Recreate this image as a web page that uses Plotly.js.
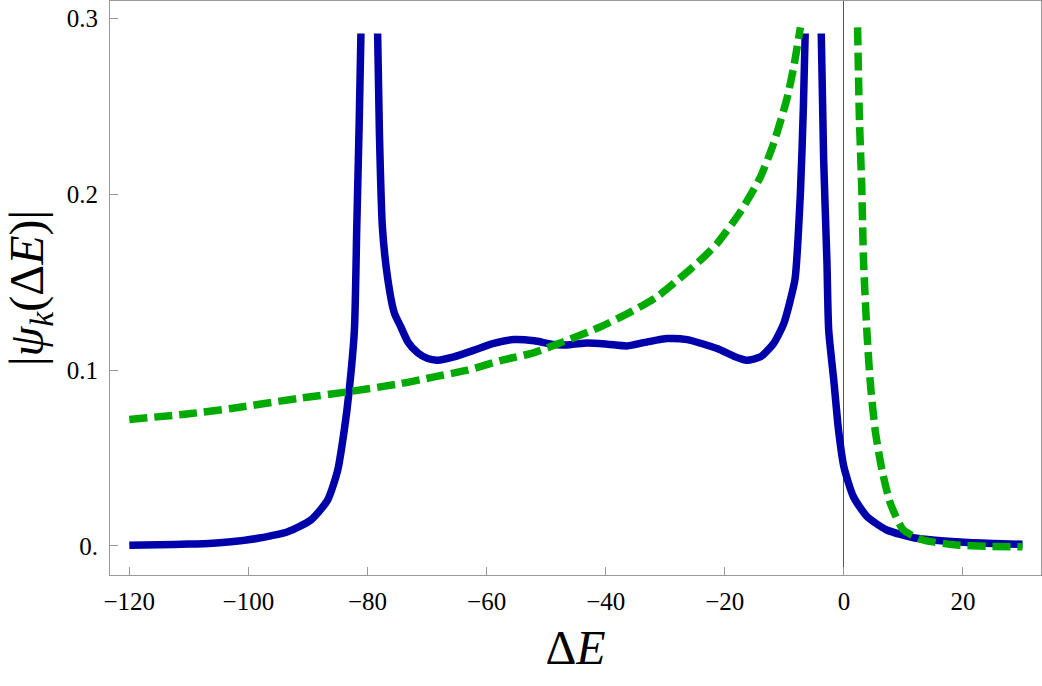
<!DOCTYPE html>
<html>
<head>
<meta charset="utf-8">
<script src="https://cdn.plot.ly/plotly-3.0.1.min.js"></script>
<style>html,body{margin:0;padding:0;background:#fff;}#chart{width:1042px;height:686px;}</style>
</head>
<body>
<div id="chart"></div>
<script>
// Solid blue curve |psi_k(ΔE)| (null = gap where the curve leaves the plotted range)
const blueX = [-120, -115, -110, -106, -102.9, -98.4, -93.4, -89.5, -86.7, -85.0, -83.9, -83.1, -82.2, -81.8, -81.4, -81.1,
  -79.7,
  -78.3, -78.0, -77.5, -76.6, -75.5, -74.4, -73.2, -71.6, -69.9, -68.2, -65.5, -62.1, -58.8, -55.4, -52.0,
  -48.7, -46.0, -43.1, -39.7, -36.4, -33.0, -29.7, -26.3, -21.3, -18.5, -16.3, -14.0, -11.8, -10.1, -9.0,
  -8.2, -7.3, -6.8, -6.5,
  -5.1,
  -3.8, -3.4, -2.85, -2.55, -1.7, -0.9, 0, 1.6, 3.9, 7.2, 12.2, 18.9, 25, 30];
const blueY = [0.0004, 0.0007, 0.0011, 0.0016, 0.0024, 0.0044, 0.0081, 0.0148, 0.0261, 0.0432, 0.0659, 0.0877, 0.1227, 0.1815, 0.24, 0.2915,
  null,
  0.2915, 0.235, 0.1815, 0.152, 0.1326, 0.1246, 0.116, 0.110, 0.1066, 0.1057, 0.1076, 0.1114, 0.1152, 0.1174, 0.1167,
  0.1146, 0.1145, 0.1155, 0.1148, 0.1138, 0.1161, 0.118, 0.1174, 0.1123, 0.108, 0.1057, 0.1076, 0.1152, 0.1265, 0.1398,
  0.152, 0.201, 0.25, 0.2915,
  null,
  0.2915, 0.22, 0.162, 0.1227, 0.0943, 0.0659, 0.045, 0.028, 0.0167, 0.0091, 0.0044, 0.0024, 0.0014, 0.001];

// Dashed green curve
const greenX = [-120, -110, -102.9, -91.7, -83.3, -74.4, -68.8, -63.2, -57.6, -52.0, -46.5, -40.9, -35.3, -31.4,
  -28.0, -24.1, -21.3, -17.4, -14.0, -11.8, -9.6, -8.45, -7.3,
  -2.5,
  2.3, 2.6, 3.0, 3.3, 3.85, 4.4, 5.25, 6.4, 7.8, 10.0, 13.3, 18.9, 24, 30];
const greenY = [0.072, 0.0752, 0.0782, 0.0839, 0.0877, 0.0924, 0.0962, 0.100, 0.1055, 0.110, 0.117, 0.1246, 0.134, 0.1417,
  0.151, 0.1625, 0.172, 0.190, 0.210, 0.229, 0.254, 0.272, 0.295,
  null,
  0.295, 0.244, 0.204, 0.162, 0.1227, 0.0943, 0.0659, 0.0432, 0.0243, 0.0091, 0.0034, 0.0006, -0.0002, -0.0005];

// Tick labels
const xTickVals = [-120, -100, -80, -60, -40, -20, 0, 20];
const xTickText = ['\u2212120', '\u2212100', '\u221280', '\u221260', '\u221240', '\u221220', '0', '20'];
const yTickVals = [0, 0.1, 0.2, 0.3];
const yTickText = ['0.', '0.1', '0.2', '0.3'];

const FONT = 'Liberation Serif, DejaVu Serif, serif';

const traces = [
  {x: blueX, y: blueY, type: 'scatter', mode: 'lines', connectgaps: false,
   line: {color: '#0000aa', width: 7.5, shape: 'spline', smoothing: 0.6}, hoverinfo: 'skip'},
  {x: greenX, y: greenY, type: 'scatter', mode: 'lines', connectgaps: false,
   line: {color: '#00aa00', width: 7.5, dash: '18px,7px', shape: 'spline', smoothing: 0.6}, hoverinfo: 'skip'}
];

const layout = {
  width: 1042, height: 686,
  margin: {l: 110, r: 1, t: 1, b: 111},
  paper_bgcolor: '#ffffff', plot_bgcolor: '#ffffff',
  showlegend: false,
  font: {family: FONT, color: '#000', size: 25},
  xaxis: {
    range: [-123.24, 33.1], tickmode: 'array', tickvals: xTickVals, ticktext: xTickText,
    ticks: 'inside', ticklen: 8, tickwidth: 1, tickcolor: '#999',
    showline: true, mirror: true, linecolor: '#999', linewidth: 1,
    showgrid: false, zeroline: true, zerolinecolor: '#555', zerolinewidth: 1.2,
    tickfont: {family: FONT, size: 25, color: '#000'}, ticklabelstandoff: 4,
    title: {text: '\u0394<i>E</i>', font: {family: FONT, size: 48, color: '#000'}, standoff: 16}
  },
  yaxis: {
    range: [-0.0165, 0.31], tickmode: 'array', tickvals: yTickVals, ticktext: yTickText,
    ticks: 'inside', ticklen: 8, tickwidth: 1, tickcolor: '#999',
    showline: true, mirror: true, linecolor: '#999', linewidth: 1,
    showgrid: false, zeroline: false,
    tickfont: {family: FONT, size: 25, color: '#000'}, ticklabelstandoff: 6,
    title: {text: '|<i>\u03c8</i><sub><i>k</i></sub>(\u0394<i>E</i>)|', font: {family: FONT, size: 48, color: '#000'}, standoff: 10}
  }
};

Plotly.newPlot('chart', traces, layout, {staticPlot: true, displayModeBar: false});
</script>
</body>
</html>
